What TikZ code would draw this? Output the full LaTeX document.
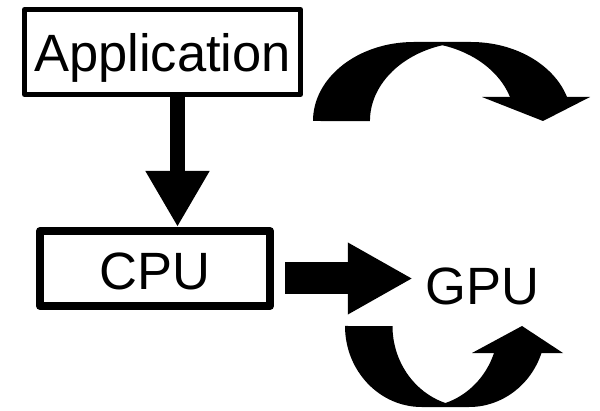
\documentclass[tikz,border=0pt]{standalone}
\usepackage{fontspec}
\setmainfont{Liberation Sans}
\usetikzlibrary{arrows.meta}

\begin{document}
\begin{tikzpicture}[x=1pt,y=1pt,
  labelfont/.style={font=\fontsize{52.5}{60}\selectfont},
  box/.style={draw=black, labelfont, inner sep=0pt, line join=round, text depth=0pt},
  fatarrow/.style={draw=black, line cap=butt},
  topell/.style={x radius=100.9pt, y radius=79pt},
  botell/.style={x radius=76.7pt, y radius=81pt}
]
\useasboundingbox (0,0) rectangle (600,410);

% boxes and label
\node[box, line width=5pt, minimum width=276pt, minimum height=85pt, text height=40pt]
  (app) at (162.5,358) {Application};
\node[box, line width=8pt, minimum width=230pt, minimum height=75pt, text height=43pt]
  (cpu) at (155,141.5) {CPU};
\node[labelfont, inner sep=0pt, anchor=base] (gpu) at (482.5,105) {GPU};

% straight block arrows
\draw[fatarrow, line width=15pt, -{Triangle[length=56pt,width=60pt]}]
  ([xshift=15pt]app.south) -- ([xshift=15pt]app.south |- cpu.north);
\draw[fatarrow, line width=32pt, -{Triangle[length=65pt,width=67pt]}, shorten >=12.6pt]
  ([xshift=11pt,yshift=-10pt]cpu.east) -- ([yshift=-10pt]cpu.east -| gpu.west);

% curved arrow above GPU: outer rim over the top, inner rim from two crossing arcs
\fill[black] (313,289) arc[start angle=180, end angle=90, topell]
  -- (470.9,368) arc[start angle=90, end angle=17.7, topell]
  -- (510,313) arc[start angle=17.7, end angle=73.6, topell]
  arc[start angle=106.4, end angle=180, topell] -- cycle;
\fill[black] (482,313) -- (590,313) -- (543,289) -- cycle;

% curved arrow below GPU
\fill[black] (345,84) arc[start angle=180, end angle=270, botell]
  -- (469.2,3) arc[start angle=270, end angle=340.53, botell]
  -- (494,57) arc[start angle=340.53, end angle=288.04, botell]
  arc[start angle=251.96, end angle=180, botell] -- cycle;
\fill[black] (472,57) -- (563,57) -- (522,84) -- cycle;
\end{tikzpicture}
\end{document}
